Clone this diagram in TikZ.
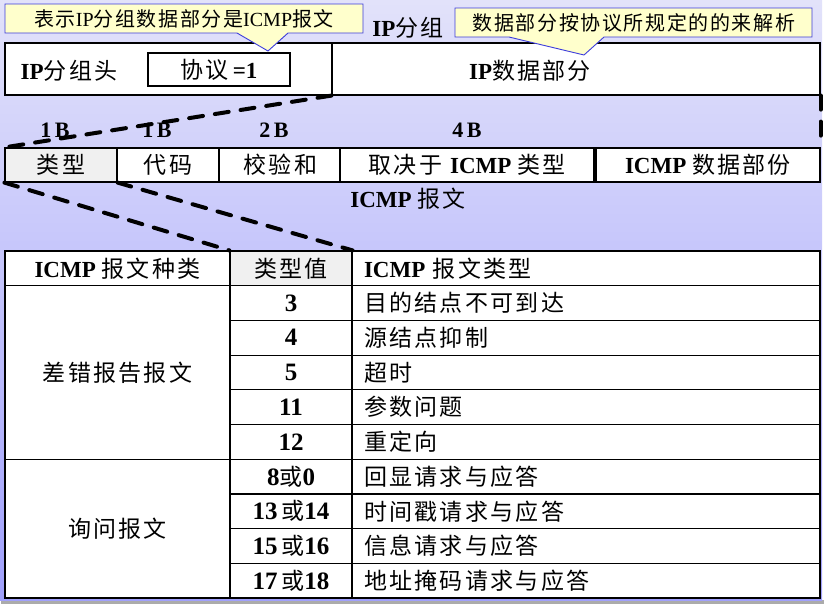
\documentclass[tikz,border=0pt]{standalone}
\usepackage{fontspec}
\setmainfont{Liberation Serif}
\newfontfamily\zh[LetterSpace=10]{Noto Sans CJK SC}
\newfontfamily\zhnarrow[LetterSpace=8]{Noto Sans CJK SC}
\newcommand\zw[1]{{\zh #1}}
\newcommand\bn[1]{\textbf{#1}}
\newcommand\num[1]{{\fontsize{25}{26}\selectfont\bfseries #1}}

\definecolor{bgtop}{RGB}{226,226,250}
\definecolor{bgbot}{RGB}{160,160,252}
\definecolor{calloutfill}{RGB}{255,255,204}
\definecolor{calloutline}{RGB}{60,60,220}
\definecolor{cellgray}{RGB}{240,240,240}

\begin{document}
\begin{tikzpicture}[x=1pt,y=-1pt,
  cell/.style={draw=black, fill=white, line width=1.2pt, inner sep=0pt,
    font=\fontsize{23}{26}\selectfont},
  graycell/.style={cell, fill=cellgray},
  leftcell/.style={cell, inner xsep=12pt, text width=#1, align=left},
  label/.style={inner sep=0pt, font=\fontsize{23}{26}\selectfont},
  bytes/.style={inner sep=0pt, font=\fontsize{22}{24}\selectfont\bfseries},
  callout/.style={fill=calloutfill, draw=calloutline, line width=0.9pt, line join=miter},
  callouttext/.style={inner sep=0pt, font=\fontsize{20}{22}\selectfont},
  zoomline/.style={draw=black, line width=4pt, dash pattern=on 14pt off 12pt, line cap=round}
]
\useasboundingbox (0,0) rectangle (824,613);

% slide background with its drop shadow
\fill[black!33] (1,600) rectangle (824,604);
\shade[top color=bgtop, bottom color=bgbot] (0,0) rectangle (822,600);

% IP packet
\node[cell, minimum width=327pt, minimum height=52pt] (hdr) at (168.5,69) {};
\node[cell, minimum width=488pt, minimum height=52pt] (data) at (576,69) {};
\node[label] (hdrtext) at (69,71) {\bn{IP}\zw{分组头}};
\node[cell, minimum width=142pt, minimum height=33pt] (proto) at (219,69.5) {\zw{协议}\,\bn{=1}};
\node[label] (datatext) at (530,71) {\bn{IP}\zw{数据部分}};
\node[label] (iptitle) at (408,28) {\bn{IP}\zw{分组}};

% callouts
\draw[callout] (5,4) -- (363,4) -- (363,33) -- (288,33) -- (268,51) -- (237,33) -- (5,33) -- cycle;
\node[callouttext] (note1) at (184,19) {{\zhnarrow 表示}IP{\zhnarrow 分组数据部分是}ICMP{\zhnarrow 报文}};
\draw[callout] (455,8) -- (812,8) -- (812,37) -- (604,37) -- (584,55) -- (509,37) -- (455,37) -- cycle;
\node[callouttext] (note2) at (634,23) {\zhnarrow 数据部分按协议所规定的的来解析};

% ICMP message fields
\node[graycell, minimum width=112pt, minimum height=34pt] (t1) at (61,165) {\zw{类型}};
\node[cell, minimum width=102pt, minimum height=34pt] (t2) at (168,165) {\zw{代码}};
\node[cell, minimum width=123pt, minimum height=34pt] (t3) at (280.5,165) {\zw{校验和}};
\node[cell, minimum width=254pt, minimum height=34pt] (t4) at (467,165) {\zw{取决于}\ \bn{ICMP}\ \zw{类型}};
\node[cell, minimum width=224pt, minimum height=34pt] (t5) at (708,165) {\bn{ICMP}\ \zw{数据部份}};

\node[bytes] (b1) at (55,130) {1\,B};
\node[bytes] (b2) at (157,130) {1\,B};
\node[bytes] (b3) at (274,130) {2\,B};
\node[bytes] (b4) at (467,130) {4\,B};
\node[label] (icmpname) at (408,199) {\bn{ICMP}\ \zw{报文}};

% table of ICMP message types
\def\rh{34.7}
\node[cell, minimum width=225pt, minimum height=\rh pt] (h1) at (117.5,{251+0.5*\rh}) {\bn{ICMP}\ \zw{报文种类}};
\node[graycell, minimum width=122pt, minimum height=\rh pt] (h2) at (291,{251+0.5*\rh}) {\zw{类型值}};
\node[leftcell=444pt, minimum height=\rh pt] (h3) at (586,{251+0.5*\rh}) {\bn{ICMP}\ \zw{报文类型}};

\node[cell, minimum width=225pt, minimum height={5*\rh pt}] (g1) at (117.5,{251+3.5*\rh}) {\zw{差错报告报文}};
\node[cell, minimum width=225pt, minimum height={4*\rh pt}] (g2) at (117.5,{251+8*\rh}) {\zw{询问报文}};

\node[cell, minimum width=122pt, minimum height=\rh pt] (v1) at (291,{251+1.5*\rh}) {\num{3}};
\node[cell, minimum width=122pt, minimum height=\rh pt] (v2) at (291,{251+2.5*\rh}) {\num{4}};
\node[cell, minimum width=122pt, minimum height=\rh pt] (v3) at (291,{251+3.5*\rh}) {\num{5}};
\node[cell, minimum width=122pt, minimum height=\rh pt] (v4) at (291,{251+4.5*\rh}) {\num{11}};
\node[cell, minimum width=122pt, minimum height=\rh pt] (v5) at (291,{251+5.5*\rh}) {\num{12}};
\node[cell, minimum width=122pt, minimum height=\rh pt] (v6) at (291,{251+6.5*\rh}) {\num{8}\zw{或}\num{0}};
\node[cell, minimum width=122pt, minimum height=\rh pt] (v7) at (291,{251+7.5*\rh}) {\num{13}\,\zw{或}\num{14}};
\node[cell, minimum width=122pt, minimum height=\rh pt] (v8) at (291,{251+8.5*\rh}) {\num{15}\,\zw{或}\num{16}};
\node[cell, minimum width=122pt, minimum height=\rh pt] (v9) at (291,{251+9.5*\rh}) {\num{17}\,\zw{或}\num{18}};

\node[leftcell=444pt, minimum height=\rh pt] (n1) at (586,{251+1.5*\rh}) {\zw{目的结点不可到达}};
\node[leftcell=444pt, minimum height=\rh pt] (n2) at (586,{251+2.5*\rh}) {\zw{源结点抑制}};
\node[leftcell=444pt, minimum height=\rh pt] (n3) at (586,{251+3.5*\rh}) {\zw{超时}};
\node[leftcell=444pt, minimum height=\rh pt] (n4) at (586,{251+4.5*\rh}) {\zw{参数问题}};
\node[leftcell=444pt, minimum height=\rh pt] (n5) at (586,{251+5.5*\rh}) {\zw{重定向}};
\node[leftcell=444pt, minimum height=\rh pt] (n6) at (586,{251+6.5*\rh}) {\zw{回显请求与应答}};
\node[leftcell=444pt, minimum height=\rh pt] (n7) at (586,{251+7.5*\rh}) {\zw{时间戳请求与应答}};
\node[leftcell=444pt, minimum height=\rh pt] (n8) at (586,{251+8.5*\rh}) {\zw{信息请求与应答}};
\node[leftcell=444pt, minimum height=\rh pt] (n9) at (586,{251+9.5*\rh}) {\zw{地址掩码请求与应答}};

% zoom-in guides
\draw[zoomline] (data.south west) -- (t1.north west);
\draw[zoomline] (data.south east) -- (t5.north east);
\draw[zoomline] (t1.south west) -- (h2.north west);
\draw[zoomline] (t1.south east) -- (h2.north east);
\end{tikzpicture}
\end{document}
